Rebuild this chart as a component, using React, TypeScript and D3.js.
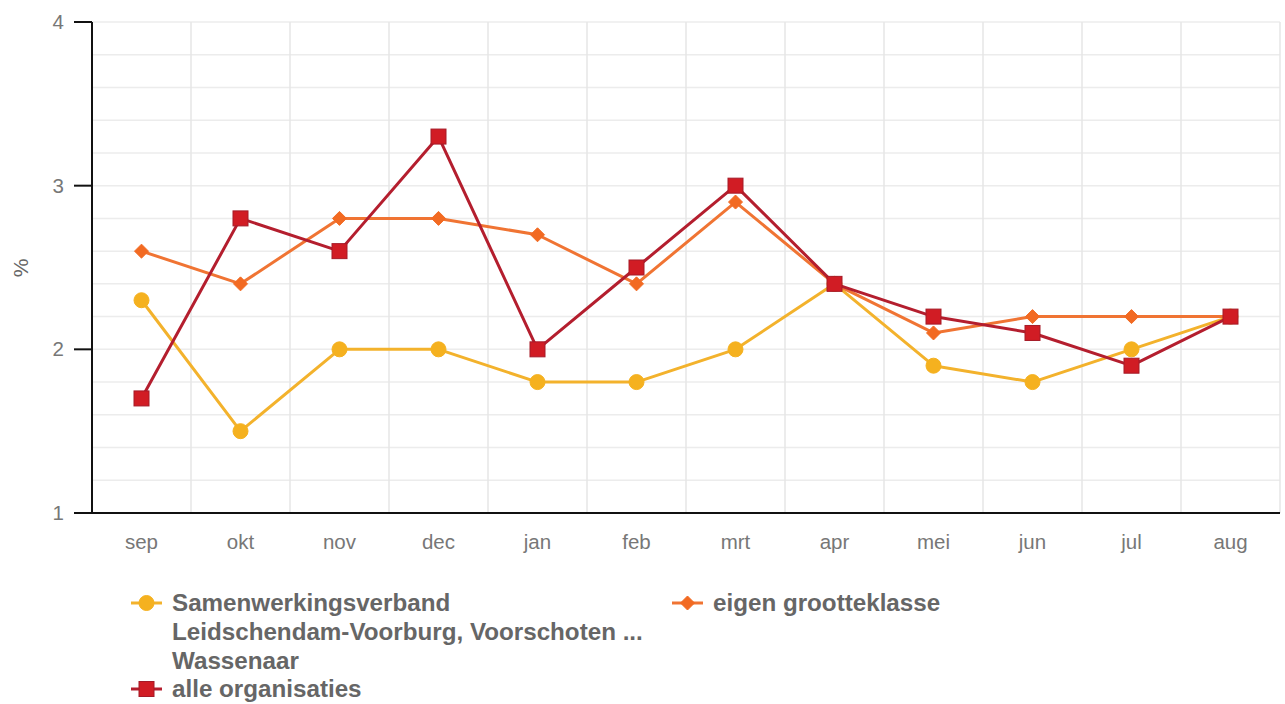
import React from "react";
import * as d3 from "d3";

const months = ["sep", "okt", "nov", "dec", "jan", "feb", "mrt", "apr", "mei", "jun", "jul", "aug"];
const samenwerking = [2.3, 1.5, 2.0, 2.0, 1.8, 1.8, 2.0, 2.4, 1.9, 1.8, 2.0, 2.2];
const eigenGrootteklasse = [2.6, 2.4, 2.8, 2.8, 2.7, 2.4, 2.9, 2.4, 2.1, 2.2, 2.2, 2.2];
const alleOrganisaties = [1.7, 2.8, 2.6, 3.3, 2.0, 2.5, 3.0, 2.4, 2.2, 2.1, 1.9, 2.2];
const majorTicks = [1, 2, 3, 4];
const minorTicks = d3.range(1, 4.0001, 0.2);

const W = 1285;
const H = 704;
const left = 92;
const right = 1280;
const top = 22;
const bottom = 513;

const FONT = "'Liberation Sans', Arial, sans-serif";

const series = [
  { name: "Samenwerkingsverband", values: samenwerking, line: "#f3b22c", fill: "#f5b11f", stroke: "#f5b11f", marker: "circle" },
  { name: "eigen grootteklasse", values: eigenGrootteklasse, line: "#f07433", fill: "#f26a22", stroke: "#f26a22", marker: "diamond" },
  { name: "alle organisaties", values: alleOrganisaties, line: "#b41e2e", fill: "#d11c24", stroke: "#a51a27", marker: "square" },
];

function Marker({ type, x, y, fill, stroke }: { type: string; x: number; y: number; fill: string; stroke: string }) {
  if (type === "circle") return <circle cx={x} cy={y} r={7.5} fill={fill} stroke={stroke} strokeWidth={1} />;
  if (type === "diamond") {
    const s = 7;
    return <path d={`M${x},${y - s}L${x + s},${y}L${x},${y + s}L${x - s},${y}Z`} fill={fill} stroke={stroke} strokeWidth={1} />;
  }
  return <rect x={x - 7.5} y={y - 7.5} width={15} height={15} fill={fill} stroke={stroke} strokeWidth={1} />;
}

export default function App() {
  const x = d3.scalePoint<string>().domain(months).range([left, right]).padding(0.5);
  const y = d3.scaleLinear().domain([1, 4]).range([bottom, top]);
  const step = x.step();
  const lineGen = (vals: number[]) =>
    d3.line<number>().x((_, i) => x(months[i]) as number).y((v) => y(v))(vals) as string;

  const vLines = d3.range(months.length + 1).map((i) => left + i * step);

  return (
    <svg width={W} height={H} style={{ position: "absolute", left: 0, top: 0 }} fontFamily={FONT}>
      <rect width={W} height={H} fill="#fff" />
      {minorTicks.map((t, i) => (
        <line key={"m" + i} x1={left} x2={right} y1={y(t)} y2={y(t)} stroke="#ececec" strokeWidth={1.5} />
      ))}
      {vLines.map((vx, i) => (
        <line key={"v" + i} x1={vx} x2={vx} y1={top} y2={bottom} stroke="#e6e6e6" strokeWidth={1.5} />
      ))}
      {/* axes */}
      <line x1={left} x2={left} y1={top} y2={bottom} stroke="#111" strokeWidth={2} />
      <line x1={74} x2={right} y1={bottom} y2={bottom} stroke="#111" strokeWidth={2} />
      {majorTicks.map((t) => (
        <g key={"t" + t}>
          <line x1={74} x2={left} y1={y(t)} y2={y(t)} stroke="#111" strokeWidth={2} />
          <text x={64} y={y(t) + 7} textAnchor="end" fontSize={20.5} fill="#777">
            {t}
          </text>
        </g>
      ))}
      <text transform={`translate(28,268) rotate(-90)`} textAnchor="middle" fontSize={21} fill="#666">
        %
      </text>
      {months.map((m) => (
        <text key={m} x={x(m)} y={549} textAnchor="middle" fontSize={20.5} fill="#777">
          {m}
        </text>
      ))}
      {series.map((s) => (
        <g key={s.name}>
          <path d={lineGen(s.values)} fill="none" stroke={s.line} strokeWidth={3} strokeLinejoin="round" />
          {s.values.map((v, i) => (
            <Marker key={i} type={s.marker} x={x(months[i]) as number} y={y(v)} fill={s.fill} stroke={s.stroke} />
          ))}
        </g>
      ))}
      {/* legend */}
      <g fontSize={24.2} fontWeight="bold" fill="#666">
        <line x1={131} x2={162} y1={603} y2={603} stroke={series[0].line} strokeWidth={3} />
        <Marker type="circle" x={146.5} y={603} fill={series[0].fill} stroke={series[0].stroke} />
        <text x={172} y={611}>
          <tspan x={172}>Samenwerkingsverband</tspan>
          <tspan x={172} dy={29}>Leidschendam-Voorburg, Voorschoten ...</tspan>
          <tspan x={172} dy={29}>Wassenaar</tspan>
        </text>
        <line x1={672} x2={703} y1={603} y2={603} stroke={series[1].line} strokeWidth={3} />
        <Marker type="diamond" x={687.5} y={603} fill={series[1].fill} stroke={series[1].stroke} />
        <text x={713} y={611}>eigen grootteklasse</text>
        <line x1={131} x2={162} y1={689} y2={689} stroke={series[2].line} strokeWidth={3} />
        <Marker type="square" x={146.5} y={689} fill={series[2].fill} stroke={series[2].stroke} />
        <text x={172} y={697}>alle organisaties</text>
      </g>
    </svg>
  );
}
